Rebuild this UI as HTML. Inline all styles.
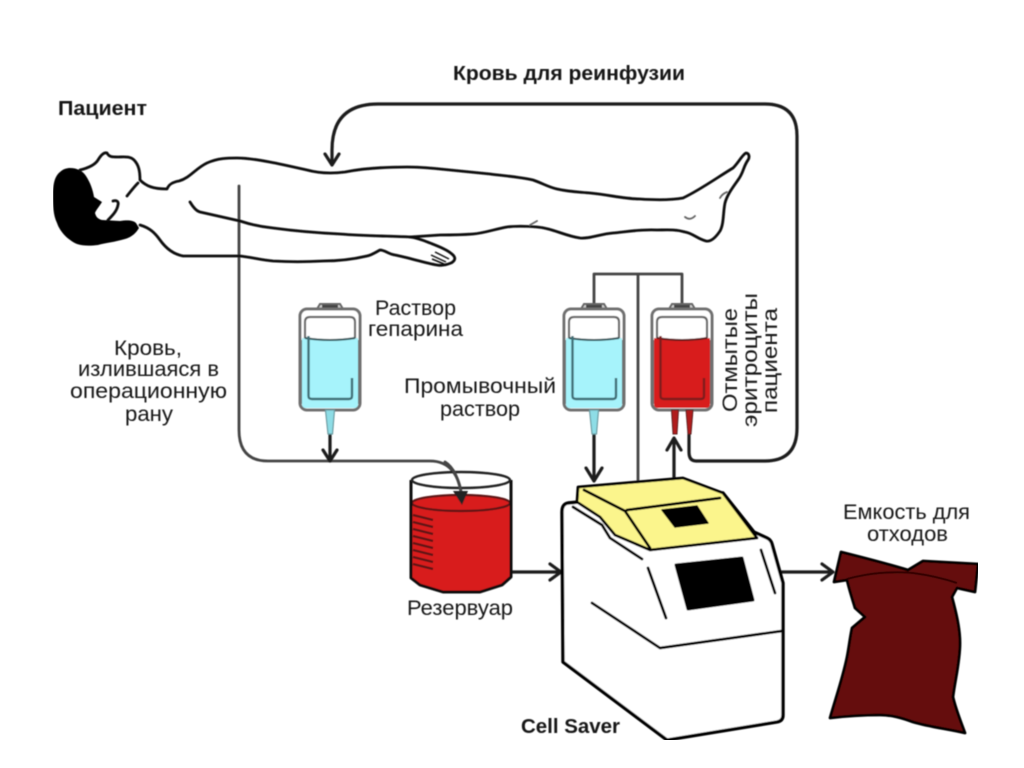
<!DOCTYPE html>
<html lang="ru">
<head>
<meta charset="utf-8">
<title>Cell Saver</title>
<style>
html,body{margin:0;padding:0;background:#fff;width:1024px;height:768px;overflow:hidden}
svg{display:block}
text{font-family:"Liberation Sans","Noto Sans CJK SC",sans-serif;font-size:21px;fill:#151515}
.b{font-weight:bold;font-size:20px}
.bl{fill:none;stroke:#111;stroke-width:2.8;stroke-linejoin:round;stroke-linecap:round}
.g{fill:none;stroke:#444;stroke-width:2.8;stroke-linejoin:round;stroke-linecap:round}
.k{fill:none;stroke:#1c1c1c;stroke-width:3.2;stroke-linejoin:round;stroke-linecap:round}
.m{fill:#fff;stroke:#000;stroke-width:3.4;stroke-linejoin:round;stroke-linecap:round}
.t{fill:none;stroke:#000;stroke-width:2.8;stroke-linecap:round;stroke-linejoin:round}
</style>
</head>
<body>
<svg width="1024" height="768" viewBox="0 0 1024 768" xmlns="http://www.w3.org/2000/svg">
<defs>
<filter id="soft" x="0" y="0" width="100%" height="100%"><feGaussianBlur stdDeviation="0.45"/></filter>
<g id="bagframe">
<path d="M317 309 L320 304 H340 L343 309" fill="#ccc" stroke="#666" stroke-width="2"/>
<rect x="322" y="305" width="16" height="3" fill="#444"/>
<rect x="300" y="309" width="60" height="101" rx="7" fill="#fff" stroke="#6f6f6f" stroke-width="3"/>
<path d="M305 339 V322 Q305 317 310 317 H350 Q355 317 355 322 V339" fill="#fff" stroke="#666" stroke-width="2.2"/>
</g>
<g id="bluebag">
<use href="#bagframe"/>
<path d="M302 338 Q330 342 358 338 V404 Q358 408 354 408 H306 Q302 408 302 404 Z" fill="#a6f3fb"/>
<path d="M305 338 Q330 342 355 338" fill="none" stroke="#35555a" stroke-width="2"/>
<path d="M308.500 336 V396 Q308.500 399 312 399 H349 Q352 399 352 396 V378" fill="none" stroke="#3f6e76" stroke-width="2.4"/>
<path d="M300.500 340 V404 M359.500 340 V404" stroke="#6f6f6f" stroke-width="3"/>
<path d="M325.500 410 H334.500 L332.500 434 H328 Z" fill="#8edde6" stroke="#6b9aa0" stroke-width="1.2"/>
</g>
</defs>

<g filter="url(#soft)">
<!-- connectors -->
<path class="g" d="M239 186 V430 Q239 461 268 461 H430 Q458 461 462 498"/>
<path class="k" d="M332 164 V150 Q332 104 378 104 H765 Q797 104 797 136 V428 Q797 461 765 461 H696 Q689 461 689 452 V432"/>
<path class="k" d="M325 154 L332 165 L339 154"/>
<path class="g" d="M594 304 V274 H682 V304 M638 274 V481"/>
<path class="k" d="M330 432 V461 M323 450 L330 461 L337 450"/>
<path class="k" d="M594 432 V480 M586 468 L594 481 L602 468"/>
<path class="k" d="M674 479 V439 M667 450 L674 438 L681 450"/>
<path class="k" d="M511 572 H560 M550 564 L561 572 L550 580"/>
<path class="k" d="M782 572 H832 M822 564 L833 572 L822 580"/>

<!-- patient -->
<path d="M70 168 C77 168 83 171 86 176 C90 182 93 190 94 197 L102 202 C99 207 96 210 95 213 C96 217 98 219 102 220 L120 221 C127 220 133 220 136 223 L139 228 C136 233 132 237 125 239 C115 242 105 243 98 245 C90 246 83 246 77 244 C68 240 60 232 57 223 C53 215 53 205 53 195 C53 183 55 176 60 172 C63 169 67 168 70 168 Z" fill="#000"/>
<path class="bl" d="M80 170 C88 168 95 165 98 160 C101 155 104 152 107 153 C109 157 112 157 118 157 C124 157 130 156 134 160 C139 165 140 172 140 180 C146 186 153 189 167 189 C169 184 173 182 179 181 C190 178 196 168 207 163 C218 158 228 158 237 158 C255 158 285 165 307 170 C318 173 330 174 345 172 C365 168 390 167 407 167 C420 167 430 168 440 169 L490 174 C505 176 520 177 533 180 C542 183 548 187 557 189 C570 192 580 192 590 193 C610 195 625 199 640 199 C655 200 672 200 683 198 C700 190 718 177 733 168 C739 162 742 155 746 153 C749 153 750 157 748 160 C743 167 744 172 738 180 C733 187 727 195 725 203 C723 212 724 224 720 231 C716 237 711 242 706 241 C698 239 692 233 685 232 C675 229 665 230 657 230 C640 229 625 232 613 233 C600 234 590 239 580 238 C565 236 552 228 537 227 C525 226 515 226 507 227 C495 229 485 233 473 234 C460 235 450 235 440 235 L410 237"/>
<path class="bl" d="M190 202 C193 207 196 211 200 212 L240 221 C252 225 262 227 273 228 C295 231 320 233 340 234 C365 236 390 236 410 237 C418 238 425 241 430 243 C440 247 448 250 453 255 C456 258 455 261 451 263 C446 265 442 266 437 265 C425 263 410 258 395 255 C388 254 385 250 380 250 C376 252 372 255 367 256 C350 260 335 261 323 261 C305 262 290 262 273 261 C262 260 250 257 240 256 C222 256 200 256 183 256 C172 254 165 247 160 240 C155 233 150 228 140 225"/>
<path class="bl" d="M127 196 C131 191 134 187 138 183 M113 201 C116 200 119 201 118 205 C117 211 112 216 108 220"/>
<path d="M431 255 L446 262 M432 259 L444 264 M435 252 L449 259" fill="none" stroke="#111" stroke-width="1.5"/>
<path d="M685 217 Q690 221 695 216 M720 198 Q722 194 727 192 M530 225 L537 221" fill="none" stroke="#666" stroke-width="1.8" stroke-linecap="round"/>

<!-- bags -->
<use href="#bluebag"/>
<use href="#bluebag" transform="translate(264 0)"/>
<g transform="translate(352 0)">
<use href="#bagframe"/>
<path d="M302 338 Q330 342 358 338 V404 Q358 408 354 408 H306 Q302 408 302 404 Z" fill="#d81c1e"/>
<path d="M305 338 Q330 342 355 338" fill="none" stroke="#5e1a1a" stroke-width="2"/>
<path d="M308.500 336 V396 Q308.500 399 312 399 H349 Q352 399 352 396 V378" fill="none" stroke="#7f1c1e" stroke-width="2.4"/>
<path d="M300.500 340 V404 M359.500 340 V404" stroke="#6f6f6f" stroke-width="3"/>
</g>
<path d="M671.500 410 H678.500 L677 434 H673 Z M686 410 H693 L691 434 H688 Z" fill="#b01a1c" stroke="#5a2020" stroke-width="1"/>

<!-- reservoir -->
<path d="M411 503 V578 L420 585 L443 592 H480 L502 585 L511 577 V503 Z" fill="#d81c1e"/>
<ellipse cx="461" cy="503" rx="49" ry="8" fill="#d81c1e" stroke="#5c1414" stroke-width="2.2"/>
<path d="M411 480 V578 L420 585 L443 592 H480 L502 585 L511 577 V480" fill="none" stroke="#111" stroke-width="3" stroke-linejoin="round"/>
<ellipse cx="461" cy="480" rx="49" ry="8" fill="none" stroke="#222" stroke-width="2.4"/>
<path d="M413 515 L433 520 M413 522 L433 527 M413 529 L433 534 M413 536 L433 541 M413 543 L433 548 M413 550 L433 555 M413 557 L433 562 M413 564 L433 569" stroke="#5c1414" stroke-width="2.4"/>
<path class="g" d="M445 462 Q458 470 462 498"/>
<path d="M453 491 L462 505 L468 491 Z" fill="#222"/>

<!-- cell saver -->
<path class="m" d="M562 512 Q562 504 568 503 L579 502 L723 493 L754 532 L767 538 Q771 540 772 544 L783 583 V715 Q783 721 777 722 L667 740 L563 662 Z"/>
<path d="M578 487 L683 478 L723 493 L757 538 L650 550 L615 535 L600 517 L577 502 Z" fill="#fbf58c" stroke="#000" stroke-width="2.8" stroke-linejoin="round"/>
<path class="t" d="M584 490 L625 511 L650 548 M627 510 L720 498"/>
<path d="M662 510 L697 506 L708 523 L675 527 Z" fill="#000" stroke="#000" stroke-width="1.5" stroke-linejoin="round"/>
<path d="M676 565 L742 558 L753 600 L688 609 Z" fill="#000" stroke="#000" stroke-width="3" stroke-linejoin="round"/>
<path class="t" d="M573 507 L602 525 L610 538 L642 559"/>
<path class="t" d="M648 568 L666 618 M761 550 L775 593 M592 603 L660 648 L782 631"/>

<!-- waste bag -->
<path d="M841 552 C865 558 888 564 908 570 L923 561 L978 564 L975 592 L957 588 L952 597 C956 612 960 628 960 643 C960 662 955 680 953 697 C956 710 961 722 965 733 C948 729 930 727 913 722 C902 718 892 715 880 715 C863 715 847 716 830 718 C836 697 843 677 847 657 C849 647 850 637 852 628 L865 617 L855 608 C852 598 849 589 847 580 L834 582 Z" fill="#650d0b" stroke="#000" stroke-width="2.8" stroke-linejoin="round"/>
<path d="M847 579 C858 576 868 574 880 573 C892 572 903 572 913 573 C928 575 942 578 957 583" fill="none" stroke="#2a0504" stroke-width="2"/>

<!-- labels -->
<text class="b" x="453" y="80" textLength="232" lengthAdjust="spacingAndGlyphs">Кровь для реинфузии</text>
<text class="b" x="58" y="115" textLength="89" lengthAdjust="spacingAndGlyphs">Пациент</text>
<text x="114" y="355" textLength="68" lengthAdjust="spacingAndGlyphs">Кровь,</text>
<text x="78" y="376" textLength="141" lengthAdjust="spacingAndGlyphs">излившаяся в</text>
<text x="70" y="398" textLength="157" lengthAdjust="spacingAndGlyphs">операционную</text>
<text x="125" y="421" textLength="48" lengthAdjust="spacingAndGlyphs">рану</text>
<text x="375" y="315" textLength="81" lengthAdjust="spacingAndGlyphs">Раствор</text>
<text x="368" y="336" textLength="95" lengthAdjust="spacingAndGlyphs">гепарина</text>
<text x="404" y="393" textLength="152" lengthAdjust="spacingAndGlyphs">Промывочный</text>
<text x="440" y="416" textLength="80" lengthAdjust="spacingAndGlyphs">раствор</text>
<text x="407" y="615" textLength="106" lengthAdjust="spacingAndGlyphs">Резервуар</text>
<text class="b" x="521" y="733" textLength="99" lengthAdjust="spacingAndGlyphs">Cell Saver</text>
<text x="843" y="519" textLength="127" lengthAdjust="spacingAndGlyphs">Емкость для</text>
<text x="867" y="541" textLength="81" lengthAdjust="spacingAndGlyphs">отходов</text>
<text transform="translate(737 412) rotate(-90)" textLength="104" lengthAdjust="spacingAndGlyphs">Отмытые</text>
<text transform="translate(757 427) rotate(-90)" textLength="134" lengthAdjust="spacingAndGlyphs">эритроциты</text>
<text transform="translate(777 413) rotate(-90)" textLength="105" lengthAdjust="spacingAndGlyphs">пациента</text>
</g>
</svg>
</body>
</html>
